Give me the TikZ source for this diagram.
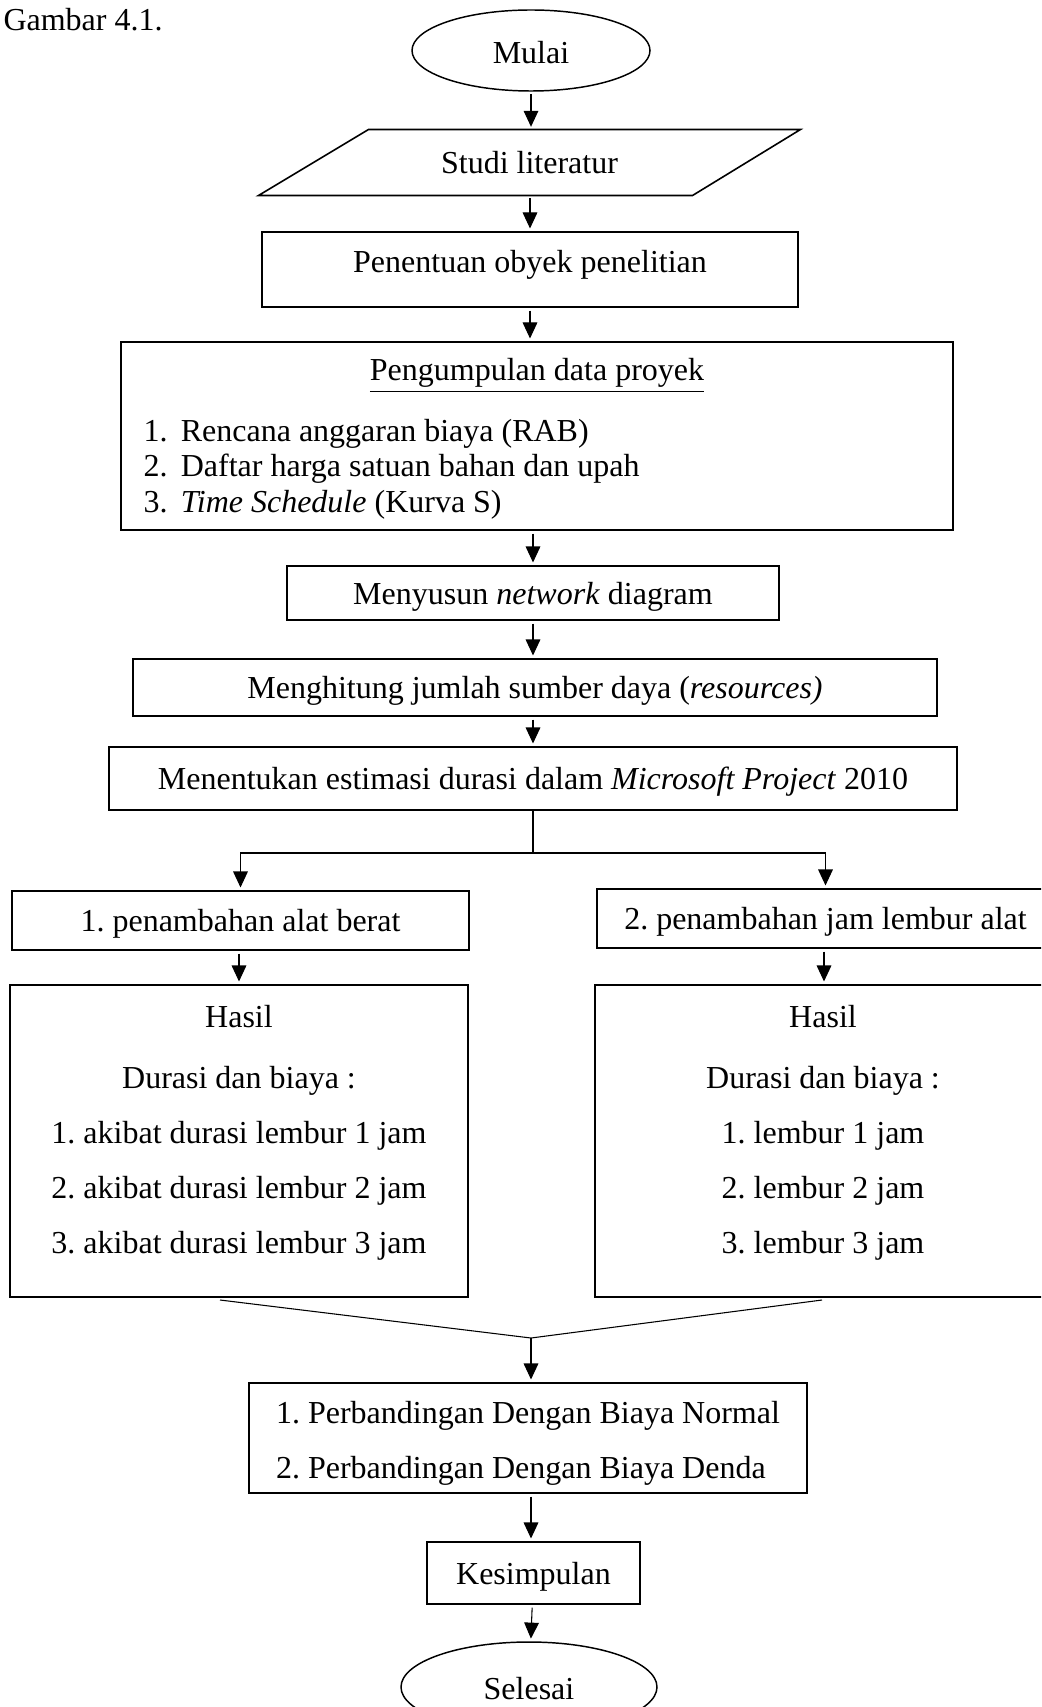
\documentclass[tikz,border=0pt]{standalone}
\usepackage{fontspec}
\setmainfont{Liberation Serif}
\usepackage{tikz}
\usetikzlibrary{arrows.meta, positioning, shapes.geometric, calc}
\frenchspacing

\begin{document}
\begin{tikzpicture}[
    x=0.375pt, y=-0.375pt,
    every node/.style={font=\fontsize{12}{14}\selectfont},
    kotak/.style 2 args={rectangle, draw, line width=0.65pt, inner sep=0pt, minimum width=#1*0.375pt, minimum height=#2*0.375pt, align=center},
    oval/.style 2 args={ellipse, draw, line width=0.55pt, inner sep=0pt, minimum width=#1*0.375pt, minimum height=#2*0.375pt, text height=12pt, text depth=2.6pt},
    turun/.style={text height=11pt, text depth=2.6pt},
    teks/.style={inner sep=0pt, align=center},
    arr/.style={-{Triangle[length=6pt, width=5.5pt]}, line width=0.4pt, shorten <=1pt, shorten >=1pt}
]
\useasboundingbox (0,0) rectangle (1041,1707);
\clip (0,0) rectangle (1041,1707);

% Judul
\node[teks, anchor=base west] (judul) at (3,31) {Gambar 4.1.};

% Alur utama
\node[oval={238}{81}] (mulai) at (531,50.5) {Mulai};
\node[inner sep=0pt, minimum width=541*0.375pt, minimum height=65*0.375pt, turun] (studi) at (529.5,162.5) {Studi literatur};
\draw[line width=0.6pt] (studi.south west) -- ++(434,0) -- (studi.north east) -- ++(-432,0) -- cycle;
\node[kotak={536}{75}, text height=8.4pt, text depth=6.4pt] (obyek) at (530,269.5) {Penentuan obyek penelitian};
\node[kotak={832}{188}] (data) at (537,436) {};
\node[teks, anchor=base] (datajudul) at (537,381) {\underline{Pengumpulan data proyek}};
\node[teks, anchor=west, align=left, font=\fontsize{12}{13.3}\selectfont] (datalist) at (143,469)
    {1.\hspace{5pt}Rencana anggaran biaya (RAB)\\
     2.\hspace{5pt}Daftar harga satuan bahan dan upah\\
     3.\hspace{5pt}\textit{Time Schedule} (Kurva S)};
\node[kotak={492}{54}, turun] (susun) at (533,593) {Menyusun \textit{network} diagram};
\node[kotak={804}{57}, turun] (hitung) at (535,687.5) {Menghitung jumlah sumber daya (\textit{resources)}};
\node[kotak={848}{63}, turun] (estimasi) at (533,778.5) {Menentukan estimasi durasi dalam \textit{Microsoft Project} 2010};

% Dua alternatif
\coordinate (cabang) at (533,853);
\node[kotak={457}{59}, turun] (alat) at (240.5,920.5) {1. penambahan alat berat};
\node[kotak={457}{59}, turun] (lembur) at (825.5,918.5) {2. penambahan jam lembur alat};
\node[kotak={458}{312}] (hasilA) at (239,1141) {};
\node[kotak={458}{312}] (hasilB) at (824,1141) {};
\node[teks, font=\fontsize{12}{20.6}\selectfont] (hasilAteks) at (239,1132.5)
    {Hasil\\[2.3pt] Durasi dan biaya :\\ 1. akibat durasi lembur 1 jam\\ 2. akibat durasi lembur 2 jam\\ 3. akibat durasi lembur 3 jam};
\node[teks, font=\fontsize{12}{20.6}\selectfont] (hasilBteks) at (823,1132.5)
    {Hasil\\[2.3pt] Durasi dan biaya :\\ 1. lembur 1 jam\\ 2. lembur 2 jam\\ 3. lembur 3 jam};

% Penutup
\coordinate (kiri) at (220,1300);
\coordinate (kanan) at (822,1300);
\coordinate (gabung) at (531,1338);
\node[kotak={558}{110}, align=left, font=\fontsize{12}{20.6}\selectfont] (banding) at (528,1438)
    {\rule{0pt}{12.2pt}1. Perbandingan Dengan Biaya Normal\\ 2. Perbandingan Dengan Biaya Denda};
\node[kotak={213}{62}, turun] (simpul) at (533.5,1573) {Kesimpulan};
\node[oval={256}{90}] (selesai) at (529,1687) {Selesai};

% Panah
\draw[arr] (mulai) -- (mulai |- studi.north);
\draw[arr] (obyek.north |- studi.south) -- (obyek.north);
\draw[arr] (obyek.south) -- (obyek.south |- data.north);
\draw[arr] (susun.north |- data.south) -- (susun.north);
\draw[arr] (susun.south) -- (susun.south |- hitung.north);
\draw[arr] (estimasi.north |- hitung.south) -- (estimasi.north);
\draw[line width=0.4pt] (estimasi.south) -- (cabang);
\draw[arr, shorten <=0pt] (cabang) -| (alat.north);
\draw[arr, shorten <=0pt] (cabang) -| (lembur.north);
\draw[arr] (hasilA.north |- alat.south) -- (hasilA.north);
\draw[arr] (hasilB.north |- lembur.south) -- (hasilB.north);
\draw[line width=0.4pt] (kiri) -- (gabung) -- (kanan);
\draw[arr, shorten <=0pt] (gabung) -- (gabung |- banding.north);
\draw[arr] (gabung |- banding.south) -- (gabung |- simpul.north);
\draw[arr] (simpul) -- (selesai);

\end{tikzpicture}
\end{document}
